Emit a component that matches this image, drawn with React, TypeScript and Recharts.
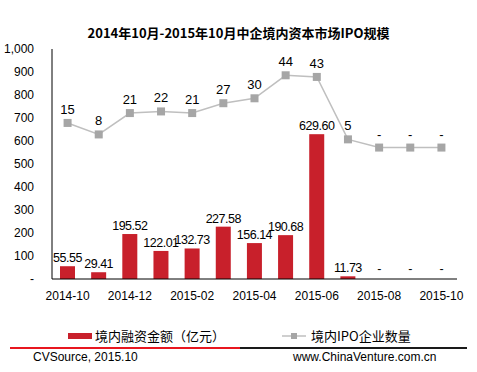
import React from "react";
import {
  ComposedChart,
  Bar,
  Line,
  XAxis,
  YAxis,
  LabelList,
} from "recharts";

const MONTHS = [
  "2014-10", "2014-11", "2014-12", "2015-01", "2015-02", "2015-03", "2015-04",
  "2015-05", "2015-06", "2015-07", "2015-08", "2015-09", "2015-10",
];
const AMOUNT = [55.55, 29.41, 195.52, 122.01, 132.73, 227.58, 156.14, 190.68, 629.6, 11.73, 0, 0, 0];
const IPO_COUNT = [15, 8, 21, 22, 21, 27, 30, 44, 43, 5, 0, 0, 0];
const Y_TICKS = [0, 100, 200, 300, 400, 500, 600, 700, 800, 900, 1000];

const data = MONTHS.map((m, i) => ({ month: m, amount: AMOUNT[i], count: IPO_COUNT[i] }));

const BAR_COLOR = "#C8202B";
const LINE_COLOR = "#BFBFBF";
const DOT_COLOR = "#A6A6A6";
const FONT = "'Liberation Sans', Arial, 'Noto Sans CJK SC', sans-serif";

function SquareDot(props: any) {
  const { cx, cy } = props;
  if (cx == null || cy == null) return null;
  return <rect x={cx - 4} y={cy - 4} width={8} height={8} fill={DOT_COLOR} />;
}

// zero months keep a slot (for the "-" label) but draw nothing
function BarShape(props: any) {
  const { x, y, width, height, value, payload } = props;
  const v = payload ? payload.amount : value;
  if (!v) return null;
  return <rect x={x} y={y} width={width} height={height} fill={BAR_COLOR} />;
}

function BarLabel(props: any) {
  const { x, y, width, height, value } = props;
  if (x == null || y == null) return null;
  const top = height < 0 ? y + height : y;
  const txt = Number(value) === 0 ? "-" : Number(value).toFixed(2);
  return (
    <text
      x={x + width / 2}
      y={top - 4}
      textAnchor="middle"
      fill="#000"
      fontSize={12.5}
      fontFamily={FONT}
      letterSpacing={-0.5}
    >
      {txt}
    </text>
  );
}

export default function App() {
  const tickStyle = { fill: "#000", fontSize: 12, fontFamily: FONT };
  return (
    <div
      style={{
        position: "absolute",
        left: 0,
        top: 0,
        width: 477,
        height: 372,
        background: "#fff",
        fontFamily: FONT,
      }}
    >
      <div
        style={{
          position: "absolute",
          top: 23,
          left: 0,
          width: 477,
          textAlign: "center",
          fontWeight: "bold",
          fontSize: 13,
          fontFamily: "'Noto Sans CJK SC', sans-serif",
        }}
      >
        2014年10月-2015年10月中企境内资本市场IPO规模
      </div>
      <ComposedChart
        width={477}
        height={372}
        data={data}
        margin={{ top: 49, right: 20, left: 0, bottom: 63 }}
      >
        <XAxis
          dataKey="month"
          interval={1}
          tickLine={false}
          axisLine={{ stroke: "#000" }}
          tick={tickStyle}
          tickMargin={6}
          height={30}
        />
        <YAxis
          domain={[0, 1000]}
          ticks={Y_TICKS}
          width={52}
          tickLine={false}
          axisLine={{ stroke: "#000" }}
          tick={tickStyle}
          tickMargin={12}
          tickFormatter={(v: number) => (v === 0 ? "-" : v.toLocaleString("en-US"))}
        />
        <YAxis yAxisId="right" orientation="right" hide domain={[-80, 60]} />
        <Bar
          dataKey="amount"
          fill={BAR_COLOR}
          barSize={15}
          minPointSize={2}
          shape={<BarShape />}
          isAnimationActive={false}
        >
          <LabelList dataKey="amount" content={<BarLabel />} />
        </Bar>
        <Line
          yAxisId="right"
          dataKey="count"
          stroke={LINE_COLOR}
          strokeWidth={1.5}
          dot={<SquareDot />}
          activeDot={false}
          isAnimationActive={false}
        >
          <LabelList
            dataKey="count"
            position="top"
            offset={9}
            style={{ fill: "#000", fontSize: 13, fontFamily: FONT }}
            formatter={(v: any) => (v === 0 ? "-" : String(v))}
          />
        </Line>
      </ComposedChart>
      {/* legend */}
      <div style={{ position: "absolute", top: 326, left: 68, display: "flex", alignItems: "center", fontSize: 13, fontFamily: "'Noto Sans CJK SC', sans-serif" }}>
        <span style={{ display: "inline-block", width: 24, height: 6, background: BAR_COLOR, marginRight: 3 }} />
        <span>境内融资金额（亿元）</span>
      </div>
      <div style={{ position: "absolute", top: 326, left: 282, display: "flex", alignItems: "center", fontSize: 13, fontFamily: "'Noto Sans CJK SC', sans-serif" }}>
        <svg width={24} height={10} style={{ marginRight: 5 }}>
          <line x1={0} y1={5} x2={24} y2={5} stroke={LINE_COLOR} strokeWidth={1.5} />
          <rect x={9} y={2} width={6} height={6} fill={DOT_COLOR} />
        </svg>
        <span>境内IPO企业数量</span>
      </div>
      {/* footer */}
      <div style={{ position: "absolute", top: 347, left: 10, width: 230, height: 2, background: "#E8161F" }} />
      <div style={{ position: "absolute", top: 347, left: 240, width: 227, height: 2, background: "#1a1a1a" }} />
      <div style={{ position: "absolute", top: 350, left: 33, fontSize: 12 }}>CVSource, 2015.10</div>
      <div style={{ position: "absolute", top: 350, left: 293, fontSize: 12 }}>www.ChinaVenture.com.cn</div>
    </div>
  );
}
